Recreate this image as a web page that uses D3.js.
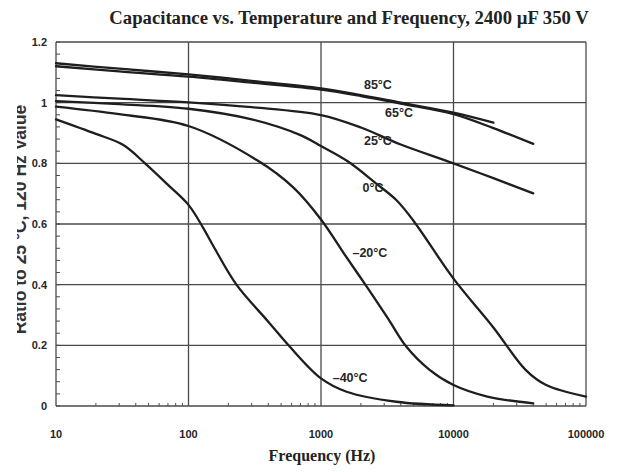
<!DOCTYPE html>
<html>
<head>
<meta charset="utf-8">
<script src="https://cdn.jsdelivr.net/npm/d3@7"></script>
<style>
  html, body { margin: 0; padding: 0; background: #ffffff; }
  svg { display: block; }
</style>
</head>
<body>
<svg id="chart" width="620" height="472"></svg>
<script>
// ---- data (frequency in Hz, ratio to 25 °C / 120 Hz value) ----
const xTicks = [10, 100, 1000, 10000, 100000];
const xTickLabels = ["10", "100", "1000", "10000", "100000"];
const yTicks = [0, 0.2, 0.4, 0.6, 0.8, 1, 1.2];
const yTickLabels = ["0", "0.2", "0.4", "0.6", "0.8", "1", "1.2"];

const t85 = [[10,1.13],[30,1.112],[100,1.093],[300,1.072],[1000,1.047],[2000,1.025],[4000,1.0],[10000,0.967],[20000,0.934]];
const t65 = [[10,1.12],[30,1.103],[100,1.086],[300,1.066],[1000,1.043],[2000,1.022],[4000,0.997],[10000,0.962],[20000,0.916],[40000,0.864]];
const t25 = [[10,1.025],[30,1.013],[100,1.001],[300,0.985],[1000,0.959],[2000,0.918],[4000,0.862],[10000,0.800],[20000,0.751],[40000,0.701]];
const t0  = [[10,1.005],[30,0.995],[100,0.98],[300,0.945],[700,0.893],[1000,0.857],[1600,0.806],[2600,0.734],[3700,0.679],[5000,0.61],[10000,0.42],[20000,0.259],[35000,0.119],[50000,0.069],[100000,0.031]];
const tm20 = [[10,0.987],[30,0.962],[100,0.923],[330,0.81],[620,0.72],[1000,0.615],[1500,0.501],[2200,0.395],[3200,0.289],[4400,0.196],[6600,0.119],[10000,0.069],[18000,0.031],[40000,0.009]];
const tm40 = [[10,0.945],[20,0.897],[32,0.861],[47,0.80],[70,0.729],[100,0.663],[130,0.585],[155,0.525],[230,0.40],[400,0.278],[580,0.196],[1000,0.091],[1560,0.047],[3700,0.014],[10000,0.002]];

const seriesData = [t85, t65, t25, t0, tm20, tm40];
const seriesNames = ["85°C", "65°C", "25°C", "0°C", "\u201320°C", "\u201340°C"];
// label anchor points (frequency, ratio) for each curve label
const labelFreq = [2690, 3880, 2690, 2470, 2340, 1660];
const labelVal  = [1.055, 0.963, 0.870, 0.715, 0.501, 0.089];

// ---- drawing ----
const svg = d3.select("#chart");
const W = 620, H = 472;
svg.append("rect").attr("width", W).attr("height", H).attr("fill", "#ffffff");

const x = d3.scaleLog().domain([10, 100000]).range([56, 586]);
const y = d3.scaleLinear().domain([0, 1.2]).range([406, 42]);

const gridColor = "#4a4a4a";
const sans = "'Liberation Sans', Arial, sans-serif";
const serif = "'Liberation Serif', 'Times New Roman', serif";

// minor ticks on y (inward from left axis)
const yMinor = d3.range(0, 1.2001, 0.04);
svg.append("g").selectAll("line").data(yMinor).join("line")
  .attr("x1", x(10)).attr("x2", x(10) + 4)
  .attr("y1", d => y(d)).attr("y2", d => y(d))
  .attr("stroke", gridColor).attr("stroke-width", 1);

// minor ticks on x (upward from bottom axis)
const xMinor = [];
[10, 100, 1000, 10000].forEach(dec => { for (let k = 2; k <= 9; k++) xMinor.push(dec * k); });
svg.append("g").selectAll("line").data(xMinor).join("line")
  .attr("x1", d => x(d)).attr("x2", d => x(d))
  .attr("y1", y(0)).attr("y2", y(0) - 3)
  .attr("stroke", gridColor).attr("stroke-width", 1);

// grid lines
svg.append("g").selectAll("line").data(yTicks).join("line")
  .attr("x1", x(10)).attr("x2", x(100000))
  .attr("y1", d => y(d)).attr("y2", d => y(d))
  .attr("stroke", gridColor).attr("stroke-width", 1.3);
svg.append("g").selectAll("line").data(xTicks).join("line")
  .attr("x1", d => x(d)).attr("x2", d => x(d))
  .attr("y1", y(0)).attr("y2", y(1.2))
  .attr("stroke", gridColor).attr("stroke-width", 1.3);

// curves
const line = d3.line()
  .x(d => x(d[0])).y(d => y(d[1]))
  .curve(d3.curveCatmullRom.alpha(0.5));
svg.append("g").selectAll("path").data(seriesData).join("path")
  .attr("d", line)
  .attr("fill", "none")
  .attr("stroke", "#1e1e1e")
  .attr("stroke-width", 2.3)
  .attr("stroke-linejoin", "round")
  .attr("stroke-linecap", "round");

// curve labels
svg.append("g").selectAll("text").data(seriesNames).join("text")
  .attr("x", (d, i) => x(labelFreq[i]))
  .attr("y", (d, i) => y(labelVal[i]))
  .attr("text-anchor", "middle")
  .attr("dominant-baseline", "middle")
  .attr("font-family", "'Liberation Sans Narrow', 'Liberation Sans', Arial, sans-serif")
  .attr("font-weight", "bold")
  .attr("font-size", 12.5)
  .attr("fill", "#262626")
  .text(d => d);

// y tick labels
svg.append("g").selectAll("text").data(yTicks).join("text")
  .attr("x", 47)
  .attr("y", d => y(d))
  .attr("dy", "0.35em")
  .attr("text-anchor", "end")
  .attr("font-family", sans)
  .attr("font-weight", "bold")
  .attr("font-size", 11)
  .attr("fill", "#262626")
  .text((d, i) => yTickLabels[i]);

// x tick labels
svg.append("g").selectAll("text").data(xTicks).join("text")
  .attr("x", d => x(d))
  .attr("y", 438)
  .attr("text-anchor", "middle")
  .attr("font-family", sans)
  .attr("font-weight", "bold")
  .attr("font-size", 11)
  .attr("fill", "#262626")
  .text((d, i) => xTickLabels[i]);

// title
svg.append("text")
  .attr("x", 349).attr("y", 24)
  .attr("text-anchor", "middle")
  .attr("font-family", serif)
  .attr("font-weight", "bold")
  .attr("font-size", 18.7)
  .attr("fill", "#222")
  .text("Capacitance vs. Temperature and Frequency, 2400 µF 350 V");

// x axis title
svg.append("text")
  .attr("x", 322).attr("y", 461)
  .attr("text-anchor", "middle")
  .attr("font-family", serif)
  .attr("font-weight", "bold")
  .attr("font-size", 16)
  .attr("fill", "#222")
  .text("Frequency (Hz)");

// y axis title (partly cut off at the left edge, as in the scan)
svg.append("clipPath").attr("id", "ylabClip")
  .append("rect").attr("x", 17).attr("y", 0).attr("width", 30).attr("height", H);
svg.append("g").attr("clip-path", "url(#ylabClip)")
  .append("text")
  .attr("transform", "translate(26,219.5) rotate(-90)")
  .attr("text-anchor", "middle")
  .attr("font-family", sans)
  .attr("font-weight", "bold")
  .attr("font-size", 17.5)
  .attr("fill", "#333")
  .text("Ratio to 25 °C, 120 Hz Value");
</script>
</body>
</html>
